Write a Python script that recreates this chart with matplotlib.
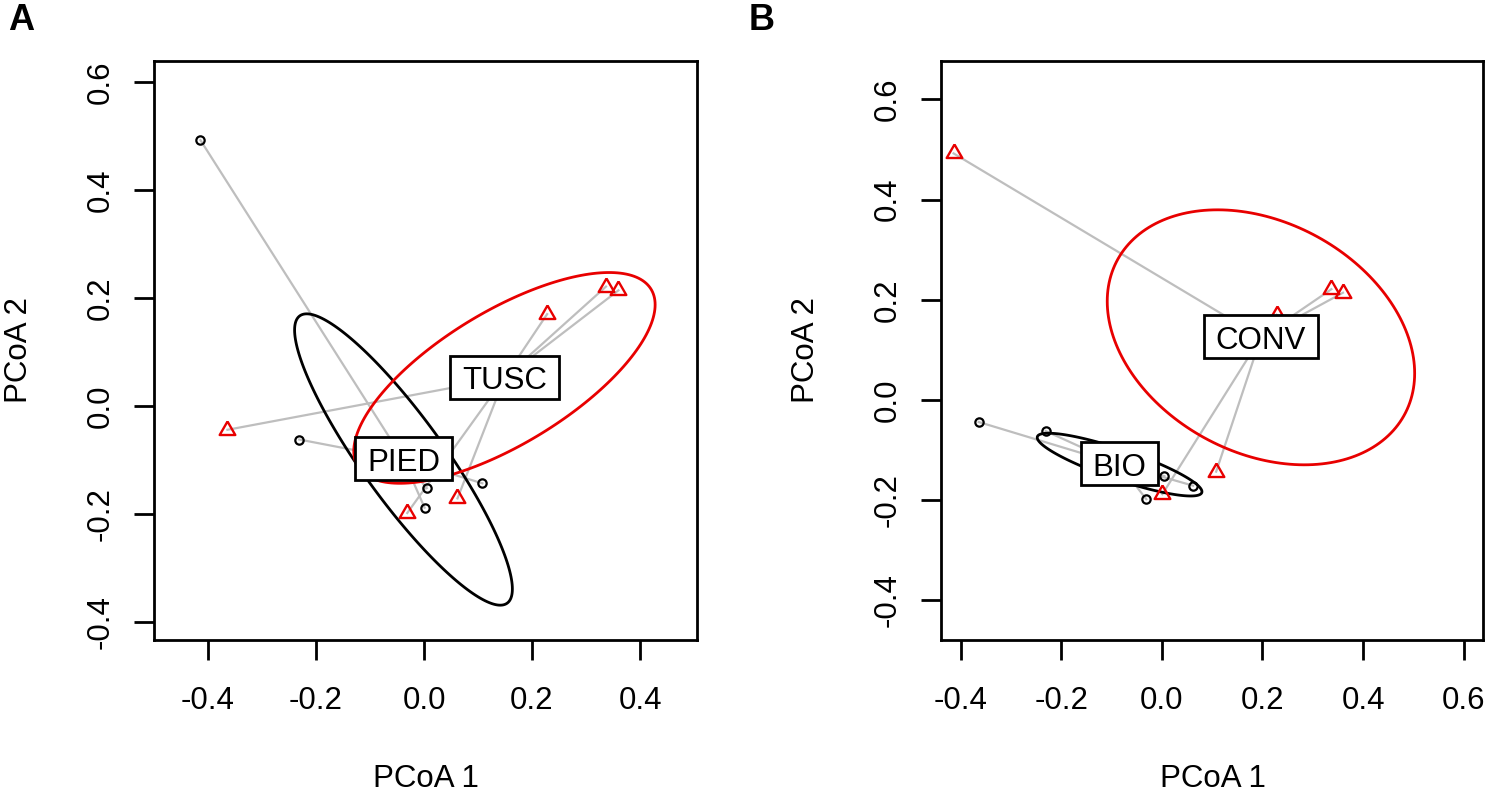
import numpy as np
import matplotlib
matplotlib.use('agg')
import matplotlib.pyplot as plt
from matplotlib.path import Path
from matplotlib.patches import Polygon
from matplotlib.ticker import FormatStrFormatter

plt.rcParams['font.family'] = ['Liberation Sans', 'DejaVu Sans']
plt.rcParams['axes.unicode_minus'] = False

# scores of the 12 samples on the first two PCoA axes (same in both panels)
pcoa1 = [-0.414, -0.231, 0.005, 0.001, 0.108, -0.040, -0.364, -0.031, 0.062, 0.228, 0.337, 0.360]
pcoa2 = [0.492, -0.062, -0.152, -0.188, -0.143, -0.100, -0.044, -0.198, -0.171, 0.170, 0.221, 0.214]

# panel A: grouping by region
region = ['PIED'] * 6 + ['TUSC'] * 6
region_levels = ['PIED', 'TUSC']
region_cx = [-0.038, 0.149]
region_cy = [-0.099, 0.052]

# panel B: grouping by farming system
system = ['CONV', 'BIO', 'BIO', 'CONV', 'CONV', 'BIO', 'BIO', 'BIO', 'BIO', 'CONV', 'CONV', 'CONV']
system_levels = ['BIO', 'CONV']
system_cx = [-0.084, 0.197]
system_cy = [-0.129, 0.125]

FS = 22.5
RED = '#E80000'
GREY = '#BEBEBE'
# R pch=2 style triangle (equilateral, centred)
TRI = [(0, 1.5551), (1.3468, -0.7776), (-1.3468, -0.7776), (0, 1.5551)]


def label_box(x0, y0, width, height, mutation_size):
    # square box, wider at the sides like ordilabel
    px = 0.38 * mutation_size
    top = 0.33 * mutation_size
    bot = 0.08 * mutation_size
    x1, x2 = x0 - px, x0 + width + px
    y1, y2 = y0 - bot, y0 + height + top
    return Path([(x1, y1), (x2, y1), (x2, y2), (x1, y2), (x1, y1)], closed=True)


def panel(ax, groups, levels, cx, cy):
    x = np.array(pcoa1)
    y = np.array(pcoa2)
    g = np.array(groups)
    styles = [dict(marker='o', ms=6.0, mew=1.6, mec='black'),
              dict(marker=TRI, ms=13, mew=1.7, mec=RED)]
    ecol = ['black', RED]

    # segments to centroids
    for i in range(len(x)):
        k = levels.index(g[i])
        ax.plot([x[i], cx[k]], [y[i], cy[k]], color=GREY, lw=1.6, zorder=1)

    # standard deviation ellipses around centroids
    t = np.linspace(0, 2 * np.pi, 200, endpoint=False)
    circ = np.column_stack([np.cos(t), np.sin(t)])
    for k, lev in enumerate(levels):
        m = g == lev
        d = np.column_stack([x[m] - cx[k], y[m] - cy[k]])
        cov = d.T @ d / (m.sum() - 1)
        L = np.linalg.cholesky(cov)
        pts = circ @ L.T + [cx[k], cy[k]]
        ax.add_patch(Polygon(pts, closed=True, fill=False, ec=ecol[k], lw=2.0, zorder=2))

    for k, lev in enumerate(levels):
        m = g == lev
        ax.plot(x[m], y[m], ls='none', mfc='none', zorder=3, **styles[k])

    for k, lev in enumerate(levels):
        ax.annotate(lev, (cx[k], cy[k]), xytext=(0, -0.358 * FS), textcoords='offset points',
                    ha='center', va='baseline', fontsize=FS, zorder=5,
                    bbox=dict(boxstyle=label_box, fc='white', ec='black', lw=2.0))


fig = plt.figure(figsize=(14.88, 7.94), dpi=100)
W, H = 1488, 794

axA = fig.add_axes([154 / W, 1 - 640 / H, 542.7 / W, 579.3 / H])
axB = fig.add_axes([941 / W, 1 - 640 / H, 542.3 / W, 579.3 / H])

panel(axA, region, region_levels, region_cx, region_cy)
panel(axB, system, system_levels, system_cx, system_cy)

axA.set_xlim(-0.5, 0.505)
axA.set_ylim(-0.433, 0.639)
axA.set_xticks([-0.4, -0.2, 0.0, 0.2, 0.4])
axA.set_yticks([-0.4, -0.2, 0.0, 0.2, 0.4, 0.6])

axB.set_xlim(-0.439, 0.639)
axB.set_ylim(-0.479, 0.677)
axB.set_xticks([-0.4, -0.2, 0.0, 0.2, 0.4, 0.6])
axB.set_yticks([-0.4, -0.2, 0.0, 0.2, 0.4, 0.6])

for ax in (axA, axB):
    for s in ax.spines.values():
        s.set_linewidth(2.0)
    ax.xaxis.set_major_formatter(FormatStrFormatter('%.1f'))
    ax.yaxis.set_major_formatter(FormatStrFormatter('%.1f'))
    ax.tick_params(direction='out', length=14.4, width=2.0, labelsize=FS)
    ax.tick_params(axis='x', pad=19)
    ax.tick_params(axis='y', pad=13, labelrotation=90)
    for lab in ax.get_yticklabels():
        lab.set_va('center')

# axis titles and panel letters
for left, letter in ((154, 'A'), (941, 'B')):
    cxp = left + 271.5
    fig.text(cxp / W, 1 - 787 / H, 'PCoA 1', ha='center', va='baseline', fontsize=FS)
    fig.text((left - 135) / W, 1 - 350.3 / H, 'PCoA 2', ha='center', va='center',
             rotation=90, fontsize=FS)
fig.text(8 / W, 1 - 30 / H, 'A', ha='left', va='baseline', fontsize=26, fontweight='bold')
fig.text(749 / W, 1 - 30 / H, 'B', ha='left', va='baseline', fontsize=26, fontweight='bold')

fig.savefig('out.png', dpi=100)
